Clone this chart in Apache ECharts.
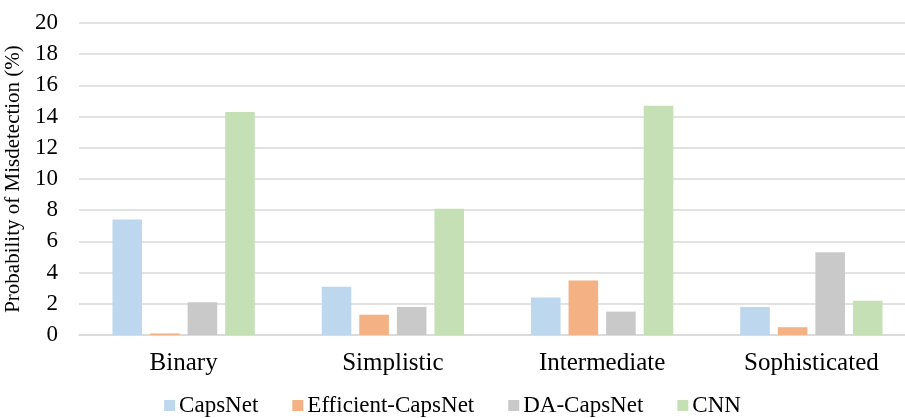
<!DOCTYPE html>
<html>
<head>
<meta charset="utf-8">
<script src="https://cdn.jsdelivr.net/npm/echarts@6/dist/echarts.min.js"></script>
<style>
  html, body { margin: 0; padding: 0; background: #ffffff; }
  #chart { width: 905px; height: 418px; }
</style>
</head>
<body>
<div id="chart"></div>
<script>
// Misdetection probability (%) per attack level and model
const categories = ['Binary', 'Simplistic', 'Intermediate', 'Sophisticated'];
const capsNet = [7.4, 3.1, 2.4, 1.8];
const efficientCapsNet = [0.1, 1.3, 3.5, 0.5];
const daCapsNet = [2.1, 1.8, 1.5, 5.3];
const cnn = [14.3, 8.1, 14.7, 2.2];
const yTicks = { min: 0, max: 20, interval: 2 };

const seriesNames = ['CapsNet', 'Efficient-CapsNet', 'DA-CapsNet', 'CNN'];
const seriesData = [capsNet, efficientCapsNet, daCapsNet, cnn];
const seriesColors = ['#bdd7ee', '#f4b183', '#c9c9c9', '#c5e0b4'];

const FONT = '"Liberation Serif", "Times New Roman", serif';

const chart = echarts.init(document.getElementById('chart'), null, { renderer: 'canvas' });

chart.setOption({
  backgroundColor: '#ffffff',
  animation: false,
  textStyle: { fontFamily: FONT, color: '#000000' },
  grid: { left: 79, top: 23, width: 837, height: 312, containLabel: false, outerBoundsMode: 'none' },
  legend: {
    data: seriesNames,
    left: 'center',
    top: 389,
    icon: 'rect',
    itemWidth: 11,
    itemHeight: 11,
    itemGap: 34,
    textStyle: { fontFamily: FONT, fontSize: 23, color: '#000000', padding: [0, 0, 0, -1] }
  },
  xAxis: {
    type: 'category',
    data: categories,
    axisLine: { show: true, lineStyle: { color: '#d9d9d9', width: 1.5 } },
    axisTick: { show: false },
    axisLabel: { fontFamily: FONT, fontSize: 25, color: '#000000', margin: 16 }
  },
  yAxis: {
    type: 'value',
    min: yTicks.min,
    max: yTicks.max,
    interval: yTicks.interval,
    name: 'Probability of Misdetection (%)',
    nameLocation: 'middle',
    nameRotate: 90,
    nameGap: 47,
    nameTextStyle: { fontFamily: FONT, fontSize: 21, color: '#000000' },
    axisLine: { show: false },
    axisTick: { show: false },
    axisLabel: { fontFamily: FONT, fontSize: 23, color: '#000000', margin: 21 },
    splitLine: { show: true, lineStyle: { color: '#d9d9d9', width: 1.5 } }
  },
  series: seriesNames.map((name, i) => ({
    name: name,
    type: 'bar',
    data: seriesData[i],
    barGap: '27%',
    barCategoryGap: '32%',
    itemStyle: { color: seriesColors[i] }
  }))
});
</script>
</body>
</html>
